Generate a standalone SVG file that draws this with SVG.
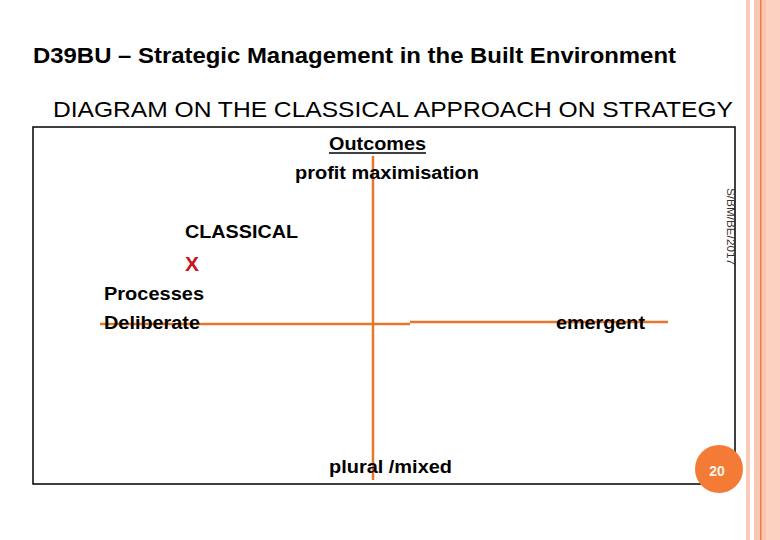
<svg xmlns="http://www.w3.org/2000/svg" width="780" height="540" viewBox="0 0 780 540">
<style>
.t{font-family:"Liberation Sans",Arial,sans-serif;fill:#000}
.b{font-weight:bold;font-size:18px}
.ax{stroke:#E5762A;stroke-width:2.5;fill:none}
</style>
<rect width="780" height="540" fill="#fff"/>
<g id="border">
<rect x="746" y="0" width="4" height="540" fill="#FAC9B8"/>
<rect x="754" y="0" width="26" height="540" fill="#FAC6B2"/>
<rect x="766" y="0" width="14" height="540" fill="#FBD2C2"/>
<rect x="760" y="0" width="1.5" height="540" fill="#E4834F"/>
</g>
<text class="t" x="33" y="63" font-size="22" font-weight="bold" textLength="643" lengthAdjust="spacingAndGlyphs">D39BU – Strategic Management in the Built Environment</text>
<text class="t" x="53" y="117" font-size="22" textLength="680" lengthAdjust="spacingAndGlyphs">DIAGRAM ON THE CLASSICAL APPROACH ON STRATEGY</text>
<rect id="frame" x="33" y="127" width="702" height="357" fill="none" stroke="#000" stroke-width="1.5"/>
<g id="connectors">
<line class="ax" x1="373" y1="156" x2="373" y2="480"/>
<line class="ax" x1="100" y1="324" x2="410" y2="324"/>
<line class="ax" x1="410" y1="322" x2="668" y2="322"/>
</g>
<g id="outcomes">
<text class="t b" x="329" y="150" textLength="97" lengthAdjust="spacingAndGlyphs">Outcomes</text>
<line x1="329" y1="153" x2="426" y2="153" stroke="#000" stroke-width="1.5"/>
<text class="t b" x="295" y="179" textLength="184" lengthAdjust="spacingAndGlyphs">profit maximisation</text>
</g>
<g id="classical">
<text class="t b" x="185" y="238" textLength="113" lengthAdjust="spacingAndGlyphs">CLASSICAL</text>
<text class="t" x="185" y="271" font-size="21" font-weight="bold" style="fill:#D0121B">X</text>
</g>
<g id="processes">
<text class="t b" x="104" y="300" textLength="100" lengthAdjust="spacingAndGlyphs">Processes</text>
<text class="t b" x="104" y="329" textLength="96" lengthAdjust="spacingAndGlyphs">Deliberate</text>
</g>
<g id="emergent">
<text class="t b" x="556" y="329" textLength="89" lengthAdjust="spacingAndGlyphs">emergent</text>
</g>
<g id="plural">
<text class="t b" x="329" y="473" textLength="123" lengthAdjust="spacingAndGlyphs">plural /mixed</text>
</g>
<text class="t" transform="translate(727,188) rotate(90)" font-size="10" style="fill:#333" textLength="77" lengthAdjust="spacingAndGlyphs">S/BM/BE/2017</text>
<g id="page">
<circle cx="719" cy="469" r="24" fill="#F47B35"/>
<text x="717" y="476" text-anchor="middle" font-family="'Liberation Sans',Arial,sans-serif" font-weight="bold" font-size="14" fill="#FFF3EA">20</text>
</g>
</svg>
